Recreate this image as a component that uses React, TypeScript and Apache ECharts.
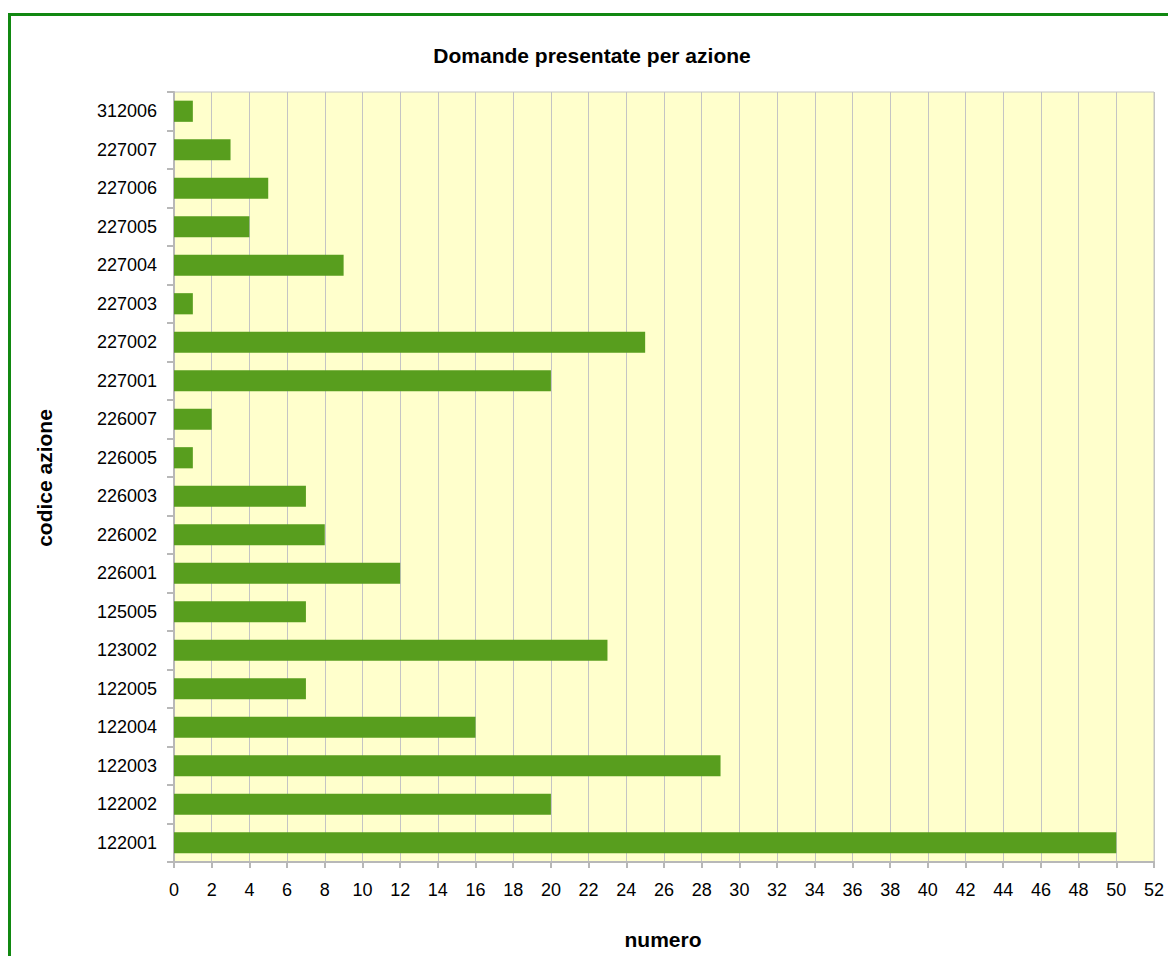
import React, { useEffect, useRef } from "react";
import * as echarts from "echarts";

// Action codes, listed top to bottom as drawn
const categories = [
  "312006", "227007", "227006", "227005", "227004", "227003", "227002",
  "227001", "226007", "226005", "226003", "226002", "226001", "125005",
  "123002", "122005", "122004", "122003", "122002", "122001",
];
const domande = [1, 3, 5, 4, 9, 1, 25, 20, 2, 1, 7, 8, 12, 7, 23, 7, 16, 29, 20, 50];

const titleText = "Domande presentate per azione";
const xName = "numero";
const yName = "codice azione";

const FONT = "'Liberation Sans', Arial, sans-serif";

export default function App() {
  const ref = useRef<HTMLDivElement>(null);
  useEffect(() => {
    if (!ref.current) return;
    const chart = echarts.init(ref.current, undefined, { renderer: "svg" });
    const bold = {
      fontFamily: FONT,
      fontSize: 21,
      fontWeight: "bold",
      fill: "#000",
      align: "center",
      verticalAlign: "middle",
    };
    chart.setOption({
      animation: false,
      backgroundColor: "#ffffff",
      textStyle: { fontFamily: FONT },
      graphic: [
        {
          type: "rect",
          shape: { x: 9.5, y: 14.5, width: 1200, height: 1000 },
          style: { fill: "none", stroke: "#118811", lineWidth: 3 },
          silent: true,
        },
        { type: "text", x: 592, y: 55, style: { ...bold, text: titleText } },
        { type: "text", x: 663, y: 939, style: { ...bold, text: xName } },
        {
          type: "text",
          x: 44,
          y: 478,
          rotation: Math.PI / 2,
          style: { ...bold, text: yName },
        },
      ],
      grid: {
        left: 174,
        top: 92,
        width: 980,
        height: 770,
        show: true,
        backgroundColor: "#ffffcc",
        borderColor: "#c4c4c4",
        borderWidth: 1,
      },
      xAxis: {
        type: "value",
        min: 0,
        max: 52,
        interval: 2,
        axisLine: { show: true, lineStyle: { color: "#b8b8b8", width: 2 } },
        axisTick: { show: true, length: 6, lineStyle: { color: "#b8b8b8", width: 2 } },
        axisLabel: { color: "#000", fontSize: 18, fontFamily: FONT, margin: 19 },
        splitLine: { show: true, lineStyle: { color: "#c4c4c4", width: 1 } },
      },
      yAxis: {
        type: "category",
        inverse: true,
        data: categories,
        axisLine: { show: true, lineStyle: { color: "#b8b8b8", width: 2 } },
        axisTick: { show: true, length: 7, lineStyle: { color: "#b8b8b8", width: 2 } },
        axisLabel: { color: "#000", fontSize: 18, fontFamily: FONT, margin: 17 },
        splitLine: { show: false },
      },
      series: [
        {
          type: "bar",
          data: domande,
          barCategoryGap: "45%",
          itemStyle: { color: "#589e1e" },
        },
      ],
    });
    return () => chart.dispose();
  }, []);
  return (
    <div
      ref={ref}
      style={{ position: "fixed", left: 0, top: 0, width: 1168, height: 956 }}
    />
  );
}
